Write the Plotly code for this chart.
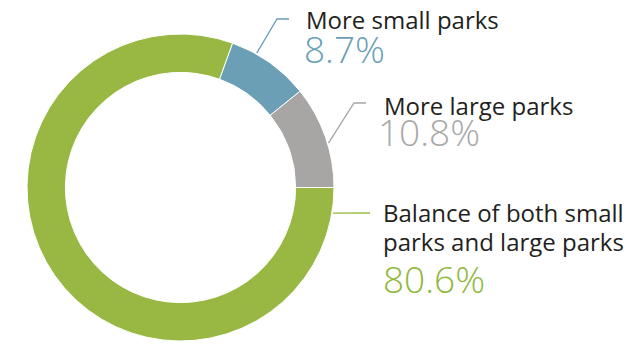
import math
import plotly.graph_objects as go

# Survey answers: preferred mix of park sizes
categories = ["Balance of both small parks and large parks", "More small parks", "More large parks"]
label_lines = [["Balance of both small", "parks and large parks"], ["More small parks"], ["More large parks"]]
values = [80.6, 8.7, 10.8]
pct_labels = ["80.6%", "8.7%", "10.8%"]

colors = ["#98b843", "#6a9fb6", "#a7a6a4"]
pct_colors = ["#8fb83e", "#6a9fb6", "#a9a8a7"]
text_color = "#231f20"

W, H = 635, 344
CX, CY, R = 180.5, 187.5, 153.5
HOLE = 0.75
ROTATION = 90  # first slice starts at 3 o'clock, going clockwise


def px(x, y):
    """Pixel position -> paper coordinates."""
    return x / W, 1 - y / H


fig = go.Figure()
fig.add_trace(go.Pie(
    labels=categories,
    values=values,
    sort=False,
    direction="clockwise",
    rotation=ROTATION,
    hole=HOLE,
    marker=dict(colors=colors, line=dict(color="white", width=1)),
    textinfo="none",
    hoverinfo="label+percent",
    showlegend=False,
    domain=dict(x=[(CX - R) / W, (CX + R) / W],
                y=[1 - (CY + R) / H, 1 - (CY - R) / H]),
))

# Angular position (clockwise from 12 o'clock) where each leader line leaves the ring,
# given as a fraction along its slice
total = sum(values)
starts = []
acc = ROTATION
for v in values:
    starts.append(acc)
    acc += v / total * 360
leader_frac = [0.033, 0.31, 0.57]
# elbow and end points of leader lines (pixels)
leader_elbow = [None, (277, 19), (354, 103)]
leader_end = [(370, 213), (289, 19), (366, 103)]

for i, v in enumerate(values):
    ang = math.radians(starts[i] + leader_frac[i] * v / total * 360)
    sx = CX + (R + 1) * math.sin(ang)
    sy = CY - (R + 1) * math.cos(ang)
    pts = [(sx, sy)]
    if leader_elbow[i] is not None:
        pts.append(leader_elbow[i])
    pts.append(leader_end[i])
    path = "M " + " L ".join("{:.4f},{:.4f}".format(*px(x, y)) for x, y in pts)
    fig.add_shape(type="path", path=path, xref="paper", yref="paper",
                  line=dict(color=colors[i], width=1.3))

# Label block positions (pixels): left x, vertical centre of first text line, line gap, percent centre
name_x = [381, 304, 382]
name_y = [212, 20, 105]
pct_x = [381, 302, 376]
pct_y = [278, 48, 131]
LINE_GAP = 29

for i in range(len(values)):
    for j, line in enumerate(label_lines[i]):
        x, y = px(name_x[i], name_y[i] + j * LINE_GAP)
        fig.add_annotation(x=x, y=y, xref="paper", yref="paper", text=line,
                           showarrow=False, xanchor="left", yanchor="middle",
                           font=dict(family="Open Sans", size=24, color=text_color))
    x, y = px(pct_x[i], pct_y[i])
    fig.add_annotation(x=x, y=y, xref="paper", yref="paper", text=pct_labels[i],
                       showarrow=False, xanchor="left", yanchor="middle",
                       font=dict(family="Open Sans", size=37, color=pct_colors[i], weight=300))

fig.update_layout(
    width=W, height=H,
    margin=dict(l=0, r=0, t=0, b=0),
    paper_bgcolor="white",
    plot_bgcolor="white",
)

fig.write_html("out.html")
